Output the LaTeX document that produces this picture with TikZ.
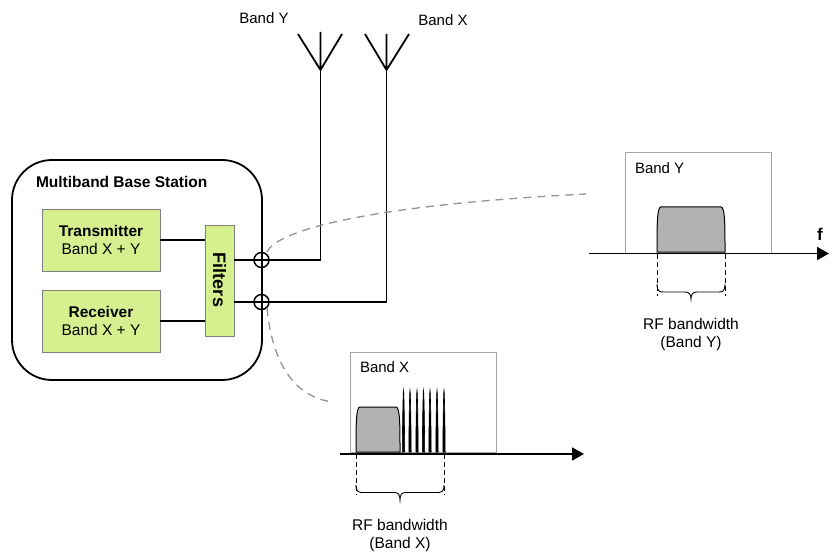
\documentclass[tikz,border=0pt]{standalone}
\usepackage{fontspec}
\setmainfont{Liberation Sans}
\usetikzlibrary{arrows.meta}
\definecolor{boxgreen}{HTML}{D6F08F}
\definecolor{boxedge}{HTML}{7F7F7F}
\definecolor{specgray}{HTML}{B2B2B2}
\definecolor{framegray}{HTML}{A6A6A6}
\tikzset{
  x=1pt,y=-1pt,
  every node/.style={font=\fontsize{15}{18}\selectfont,inner sep=0pt,outer sep=0pt},
  wire/.style={draw=black,line width=1.8pt},
  station/.style={draw=black,line width=1.8pt,rounded corners=40pt,fill=white,minimum width=250pt,minimum height=220pt},
  greenbox/.style={draw=boxedge,line width=0.8pt,fill=boxgreen,align=center},
  frame/.style={draw=framegray,line width=1pt,fill=white},
  spec/.style={draw=black,line width=1pt,fill=specgray},
  spike/.style={draw=black,line width=0.6pt,fill=black},
  axis/.style={draw=black,line width=1.8pt,-{Triangle[length=12pt,width=13pt]}},
  guide/.style={draw=black,line width=0.9pt,dash pattern=on 5pt off 3pt},
  leader/.style={draw=gray!85,line width=1.3pt,dash pattern=on 8pt off 6pt},
  brace/.style={draw=black,line width=0.9pt},
  junction/.style={circle,draw=black,line width=1.5pt,minimum size=15pt},
  label/.style={align=center}
}
\begin{document}
\begin{tikzpicture}
\useasboundingbox (0,0) rectangle (829,553);
% base station
\node[station] (bs) at (137,270) {};
\node[font=\fontsize{15.5}{18}\selectfont\bfseries,anchor=west] (bstitle) at (36,182) {Multiband Base Station};
\node[greenbox,minimum width=118pt,minimum height=62pt,font=\fontsize{15.5}{18}\selectfont] (tx) at (101,240) {\textbf{Transmitter}\\Band X + Y};
\node[greenbox,minimum width=118pt,minimum height=62pt,font=\fontsize{15.5}{18}\selectfont] (rx) at (101,321) {\textbf{Receiver}\\Band X + Y};
\node[greenbox,minimum width=29pt,minimum height=111pt] (filt) at (219.5,280.5) {};
\node[rotate=-90,font=\fontsize{18}{20}\selectfont\bfseries] (filttext) at (219.5,280) {Filters};
\coordinate (txe) at (tx.east);
\coordinate (rxe) at (rx.east);
\draw[wire] (txe) -- (txe -| filt.west);
\draw[wire] (rxe) -- (rxe -| filt.west);
% antennas
\coordinate (apexY) at (320.5,70);
\coordinate (apexX) at (386.5,70);
\coordinate (cornY) at (320.5,260);
\coordinate (cornX) at (386.5,302);
\coordinate (fy) at (234,260);
\coordinate (fx) at (234,302);
\draw[wire] (fy) -- (cornY) -- (apexY);
\draw[wire] (fx) -- (cornX) -- (apexX);
\draw[wire] (apexY) -- (320.5,32) (apexY) -- (298,34) (apexY) -- (342,34);
\draw[wire] (apexX) -- (386.5,34) (apexX) -- (365,34) (apexX) -- (409,34);
\node[label] (lbY) at (264,18) {Band Y};
\node[label] (lbX) at (443,20) {Band X};
% junctions
\node[junction] (j1) at (261.5,260) {};
\node[junction] (j2) at (261.5,302) {};
% Band Y spectrum
\node[frame,minimum width=146pt,minimum height=100pt] (fry) at (698,203) {};
\node[anchor=west] (tby) at (635,168) {Band Y};
\coordinate (ya) at (589,253.5);
\coordinate (yb) at (829,253.5);
\draw[spec] (657,252) .. controls (657,225) and (657,207) .. (661,207) -- (721,207) .. controls (725,207) and (725,225) .. (725,252) -- cycle;
\draw[axis] (ya) -- (yb);
\node[font=\fontsize{17}{20}\selectfont\bfseries] (fl) at (820,234) {f};
\coordinate (y1) at (657,254);
\coordinate (y2) at (725,254);
\draw[guide] (y1) -- (657,296);
\draw[guide] (y2) -- (725,296);
\draw[brace] (657,284) .. controls (657,292) and (660,292) .. (664,292) -- (685,292) .. controls (689,292) and (691,294) .. (691,299) .. controls (691,294) and (693,292) .. (697,292) -- (718,292) .. controls (722,292) and (725,292) .. (725,284);
\node[label,font=\fontsize{15.5}{18}\selectfont] (rfy) at (691,334) {RF bandwidth\\(Band Y)};
% Band X spectrum
\node[frame,minimum width=146pt,minimum height=100pt] (frx) at (423,402) {};
\node[anchor=west] (tbx) at (360,367) {Band X};
\coordinate (xa) at (340,454);
\coordinate (xb) at (584,454);
\draw[spec] (356,452) .. controls (356,425) and (356,407) .. (360,407) -- (396,407) .. controls (400,407) and (400,425) .. (400,452) -- cycle;
\foreach \xx in {403.5,410,417,423.5,430,437,444}{
  \draw[spike] (\xx-1.2,452) .. controls (\xx-1,420) and (\xx-0.4,390) .. (\xx,390) .. controls (\xx+0.4,390) and (\xx+1,420) .. (\xx+1.2,452) -- cycle;
}
\draw[axis] (xa) -- (xb);
\coordinate (x1) at (356,454);
\coordinate (x2) at (444,454);
\draw[guide] (x1) -- (356,495);
\draw[guide] (x2) -- (444,495);
\draw[brace] (356,485) .. controls (356,492) and (359,492.5) .. (363,492.5) -- (394,492.5) .. controls (398,492.5) and (400,494) .. (400,500) .. controls (400,494) and (402,492.5) .. (406,492.5) -- (437,492.5) .. controls (441,492.5) and (444,492) .. (444,485);
\node[label,font=\fontsize{15.5}{18}\selectfont] (rfx) at (400,535) {RF bandwidth\\(Band X)};
% leaders
\draw[leader] (267,252) .. controls (277,230) and (370,205) .. (586,194);
\draw[leader] (267,308) .. controls (272,360) and (292,396) .. (332,402);
\end{tikzpicture}
\end{document}
